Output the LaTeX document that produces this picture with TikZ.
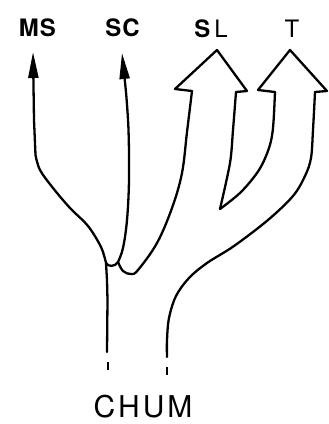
\documentclass[tikz,border=0pt]{standalone}
\usepackage{fontspec}
\setmainfont{TeX Gyre Heros}
\usetikzlibrary{arrows.meta}
\tikzset{
  stem/.style={line width=2.3pt, line join=round, line cap=round},
  thinhead/.style={-{Triangle[length=26pt,width=10pt]}},
  lab/.style={inner sep=0pt, font=\fontsize{24}{24}\selectfont},
  biglab/.style={inner sep=0pt, font=\fontsize{30}{30}\selectfont},
  dashmark/.style={line width=2pt}
}
\begin{document}
\begin{tikzpicture}[x=1pt,y=-1pt]
\useasboundingbox (0,0) rectangle (329,424);
% labels
\node[lab] (ms) at (37.5,27.5) {\textbf{M\kern1ptS}};
\node[lab] (sc) at (122.5,27.5) {\textbf{S\kern1ptC}};
\node[lab] (sl) at (211,28.5) {\textbf{S}\kern4ptL};
\node[lab] (t) at (292,28.5) {T};
\node[biglab] (chum) at (143,407) {C\kern3ptH\kern3ptU\kern3ptM};
% coordinates
\coordinate (j1) at (106,263);
\coordinate (j2) at (118,262);
% left trunk + MS
\draw[stem, thinhead] (107,352) -- (107.5,300) -- (107,280) -- (j1)
  plot[smooth, tension=0.55] coordinates {(j1) (101,247) (88,226) (70,208) (53,188) (40,170) (35.5,155)}
  -- (34,120) -- (33,52);
% cup 1
\draw[stem] (j1) .. controls (108,267) and (115,267) .. (j2);
% SC
\draw[stem, thinhead] plot[smooth, tension=0.6] coordinates {(j2) (123,248) (127,220) (129,180) (128.5,130) (126,92)} -- (122,53);
% cup 2 + SL left shaft
\draw[stem] plot[smooth, tension=0.6] coordinates {(j2) (123,271) (131,274) (138,270) (157,243) (172,208) (182,173) (187,132) (192,91)};
% SL arrow head
\draw[stem] (192,91) -- (175,89) -- (217,50) -- (247,91) -- (236,92);
% SL right shaft down into V and up to T left shaft
\draw[stem] plot[smooth, tension=0.5] coordinates {(236,92) (233,130) (230,163) (220,209)};
\draw[stem] plot[smooth, tension=0.55] coordinates {(220,209) (241,192) (259,170) (269,148) (273,128) (275,92)};
% T arrow head
\draw[stem] (275,92) -- (258,90) -- (290,50) -- (327,91) -- (315,92);
% T right shaft down to right trunk
\draw[stem] plot[smooth, tension=0.55] coordinates {(315,92) (313,130) (311,158) (305,176) (293,196) (268,220) (234,246) (207,263) (189,278) (176,296) (169,318) (167,340) (167,357)};
% dashes
\draw[dashmark] (108,362) -- (108,370);
\draw[dashmark] (167,367) -- (167,375);
\end{tikzpicture}
\end{document}
